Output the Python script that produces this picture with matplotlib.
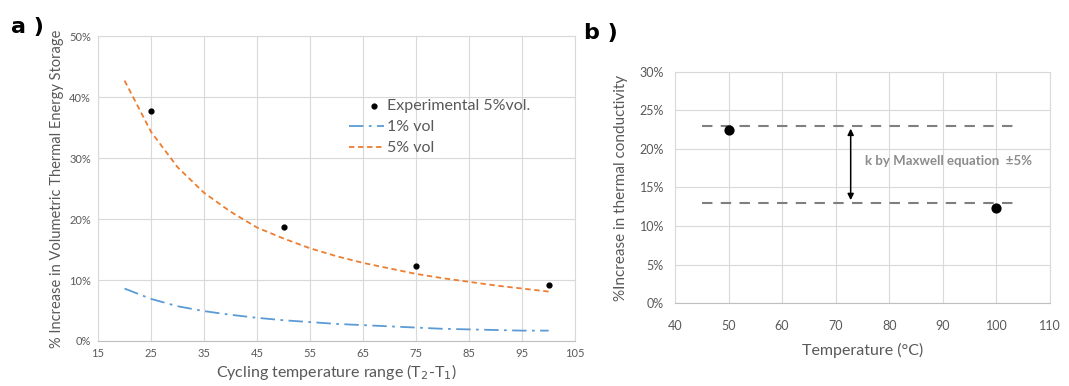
import numpy as np
import matplotlib.pyplot as plt
from matplotlib.legend_handler import HandlerPathCollection

plt.rcParams['font.family'] = ['Lato', 'DejaVu Sans']

# panel a) data
dT = [20, 25, 30, 35, 40, 45, 50, 55, 60, 65, 70, 75, 80, 85, 90, 95, 100]
vol5 = [42.7, 34.3, 28.5, 24.3, 21.2, 18.6, 16.8, 15.2, 13.9, 12.8, 11.9, 11.0, 10.3, 9.7, 9.1, 8.6, 8.1]
vol1 = [8.6, 6.9, 5.7, 4.9, 4.3, 3.8, 3.4, 3.1, 2.8, 2.6, 2.4, 2.2, 2.0, 1.9, 1.8, 1.7, 1.7]
exp_dT = [25, 50, 75, 100]
exp_val = [37.7, 18.7, 12.3, 9.2]

# panel b) data
temp = [50, 100]
k_inc = [22.5, 12.3]
k_upper = 23
k_lower = 13
band_x = [45, 104]

txt = '#595959'
grid = '#d9d9d9'


class RightDot(HandlerPathCollection):
    # put the marker near the text, like excel does
    def get_xdata(self, legend, xdescent, ydescent, width, height, fontsize):
        xd, _ = super().get_xdata(legend, xdescent, ydescent, width, height, fontsize)
        return xd, [-xdescent + 0.72 * width]


fig = plt.figure(figsize=(10.69, 3.86), dpi=100)
ax1 = fig.add_axes([0.0917, 0.1166, 0.4463, 0.79])
ax2 = fig.add_axes([0.6314, 0.215, 0.3508, 0.5985])

for ax in (ax1, ax2):
    ax.grid(True, color=grid, linewidth=0.8)
    ax.set_axisbelow(True)
    for s in ax.spines.values():
        s.set_color(grid)
    ax.spines['bottom'].set_color('#bfbfbf')
    ax.tick_params(length=0, colors=txt)

# a)
ax1.plot(dT, vol1, color='#5b9bd5', linestyle=(0, (8, 3, 1.5, 3)), linewidth=1.3, label='1% vol')
ax1.plot(dT, vol5, color='#ed7d31', linestyle=(0, (3, 2)), linewidth=1.3, label='5% vol')
sc = ax1.scatter(exp_dT, exp_val, color='black', s=12, zorder=3, label='Experimental 5%vol.')
ax1.set_xlim(15, 105)
ax1.set_ylim(0, 50)
ax1.set_xticks(np.arange(15, 106, 10))
ax1.set_yticks(np.arange(0, 51, 10))
ax1.set_yticklabels([f'{v}%' for v in range(0, 51, 10)])
ax1.tick_params(labelsize=8, pad=5)
ax1.set_xlabel('Cycling temperature range (T$_2$-T$_1$)', color=txt, fontsize=11.5, labelpad=2)
ax1.set_ylabel('% Increase in Volumetric Thermal Energy Storage', color=txt, fontsize=10.5)
h, l = ax1.get_legend_handles_labels()
leg = ax1.legend([h[2], h[0], h[1]], [l[2], l[0], l[1]], loc='upper left',
                 bbox_to_anchor=(0.495, 0.84), frameon=False, fontsize=11.5,
                 handlelength=2.2, handletextpad=0.2, labelspacing=0.42,
                 handler_map={sc: RightDot()})
for t in leg.get_texts():
    t.set_color(txt)

# b)
ax2.plot(band_x, [k_upper, k_upper], color='#7f7f7f', linestyle=(0, (5, 4)), linewidth=1.5)
ax2.plot(band_x, [k_lower, k_lower], color='#7f7f7f', linestyle=(0, (5, 4)), linewidth=1.5)
ax2.scatter(temp, k_inc, color='black', s=40, zorder=3)
ax2.annotate('', xy=(72.8, k_upper), xytext=(72.8, k_lower),
             arrowprops=dict(arrowstyle='<|-|>', color='black', lw=1.1, mutation_scale=9))
ax2.text(75.5, 18.5, 'k by Maxwell equation  \u00b15%', color='#8c8c8c', fontsize=9.5,
         fontweight='bold', va='center')
ax2.set_xlim(40, 110)
ax2.set_ylim(0, 30)
ax2.set_xticks(np.arange(40, 111, 10))
ax2.set_yticks(np.arange(0, 31, 5))
ax2.set_yticklabels([f'{v}%' for v in range(0, 31, 5)])
ax2.tick_params(labelsize=9)
ax2.tick_params(axis='x', pad=12)
ax2.tick_params(axis='y', pad=8)
ax2.set_xlabel('Temperature (\u00b0C)', color=txt, fontsize=11.5, labelpad=8)
ax2.set_ylabel('%Increase in thermal conductivity', color=txt, fontsize=11, labelpad=8)

fig.text(0.01, 0.93, 'a )', fontsize=16, fontweight='bold', va='center', family='DejaVu Sans')
fig.text(0.546, 0.915, 'b )', fontsize=16, fontweight='bold', va='center', family='DejaVu Sans')

fig.savefig('out.png', dpi=100)
